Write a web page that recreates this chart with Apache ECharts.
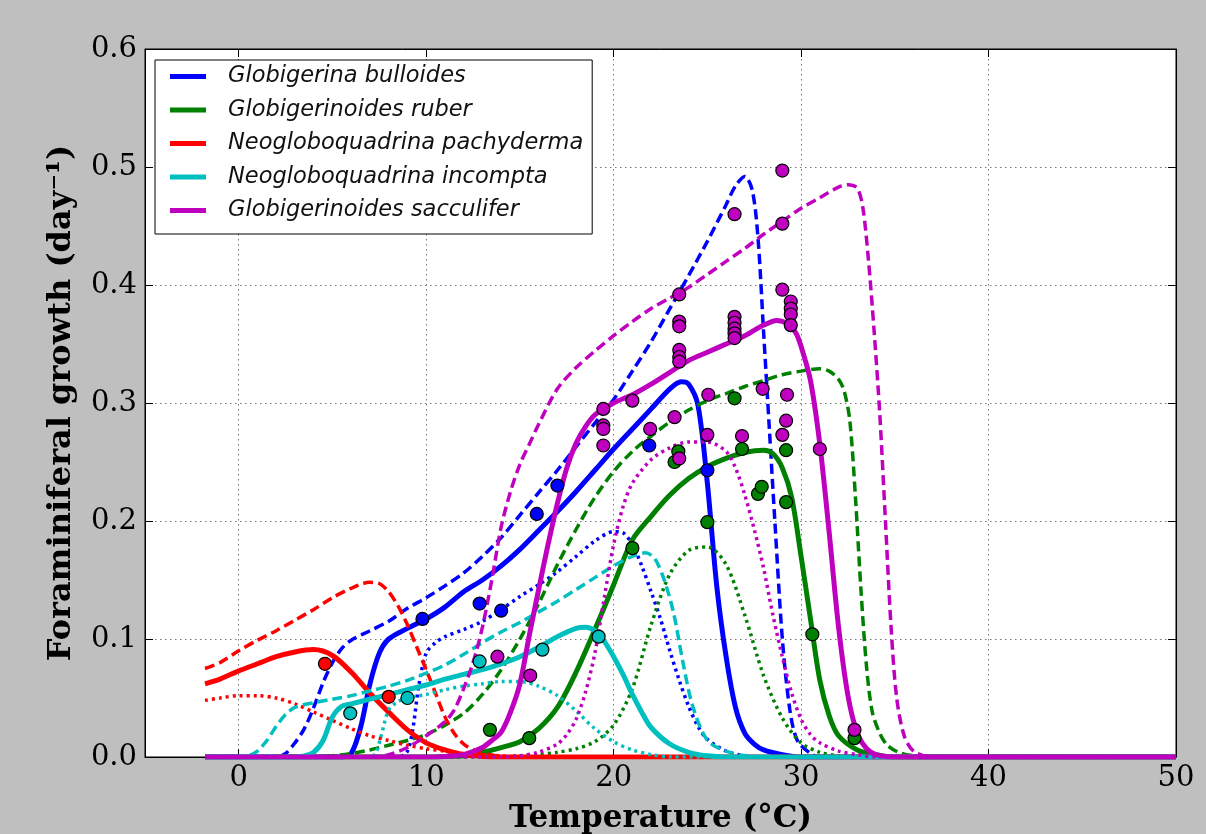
<!DOCTYPE html>
<html>
<head>
<meta charset="utf-8">
<script src="https://cdn.jsdelivr.net/npm/echarts@6/dist/echarts.min.js"></script>
<style>
  html, body { margin: 0; padding: 0; background: #bfbfbf; }
  #growth { width: 1206px; height: 834px; }
</style>
</head>
<body>
<div id="growth"></div>
<script>
// tick labels
var xTicks = [0, 10, 20, 30, 40, 50];
var yTicks = [0, 0.1, 0.2, 0.3, 0.4, 0.5, 0.6];

var speciesNames = ['Globigerina bulloides', 'Globigerinoides ruber', 'Neogloboquadrina pachyderma',
	'Neogloboquadrina incompta', 'Globigerinoides sacculifer'];

// [temperature, growth]
var bullSolid = [[-1.8,0],[5.5,0],[6,0.003],[6.5,0.025],[7,0.062],[7.5,0.088],[8,0.100],[9,0.109],[10,0.117],[11,0.127],[12,0.140],[13,0.150],[14,0.162],[15,0.176],[16,0.192],[17,0.208],[18,0.225],[19,0.243],[20,0.261],[21,0.278],[22,0.295],[23,0.312],[23.6,0.318],[24,0.316],[24.5,0.298],[25,0.232],[25.5,0.145],[26,0.085],[26.5,0.042],[27,0.020],[27.5,0.011],[28,0.006],[29,0.002],[30,0],[50,0]];
var bullDash = [[-1.8,0],[2,0],[2.5,0.003],[3,0.012],[3.5,0.024],[4,0.042],[4.5,0.063],[5,0.080],[5.5,0.092],[6,0.099],[7,0.107],[8,0.115],[9,0.126],[10,0.135],[11,0.145],[12,0.156],[13,0.170],[14,0.186],[15,0.205],[16,0.224],[17,0.243],[18,0.263],[19,0.283],[20,0.303],[21,0.327],[22,0.352],[23,0.380],[24,0.408],[25,0.437],[26,0.468],[26.5,0.484],[27,0.492],[27.4,0.480],[27.7,0.440],[28,0.360],[28.3,0.280],[28.6,0.200],[29,0.100],[29.4,0.040],[29.8,0.014],[30.5,0.003],[31,0],[50,0]];
var bullDot = [[-1.8,0],[8.5,0],[9,0.005],[9.3,0.025],[9.6,0.060],[10,0.088],[10.5,0.097],[11,0.102],[12,0.108],[13,0.115],[14,0.125],[15,0.136],[16,0.146],[17,0.157],[18,0.170],[19,0.183],[20,0.191],[20.5,0.190],[21,0.180],[21.5,0.162],[22,0.140],[22.5,0.117],[23,0.090],[23.5,0.065],[24,0.043],[24.5,0.026],[25,0.015],[26,0.005],[27,0.001],[28,0],[50,0]];

var ruberSolid = [[-1.8,0],[10,0],[11,0.0005],[12,0.001],[13,0.004],[14,0.008],[15,0.013],[16,0.024],[17,0.042],[18,0.072],[19,0.108],[20,0.146],[21,0.184],[22,0.204],[23,0.222],[24,0.236],[25,0.246],[26,0.253],[27,0.258],[28,0.260],[28.5,0.257],[29,0.245],[29.5,0.220],[30,0.170],[30.5,0.117],[31,0.065],[31.5,0.035],[32,0.018],[33,0.006],[34,0.002],[35,0],[50,0]];
var ruberDash = [[-1.8,0],[4,0],[5,0.001],[6,0.003],[7,0.006],[8,0.010],[9,0.014],[10,0.019],[11,0.027],[12,0.037],[13,0.053],[14,0.074],[15,0.100],[16,0.130],[17,0.163],[18,0.193],[19,0.220],[20,0.242],[21,0.259],[22,0.272],[23,0.284],[24,0.294],[25,0.302],[26,0.308],[27,0.314],[28,0.319],[29,0.324],[30,0.327],[31,0.329],[31.5,0.327],[32,0.320],[32.3,0.310],[32.6,0.285],[32.9,0.220],[33.2,0.140],[33.5,0.075],[33.8,0.038],[34.2,0.020],[34.6,0.010],[35.2,0.004],[36,0.001],[37,0],[50,0]];
var ruberDot = [[-1.8,0],[14,0],[15,0.001],[16,0.002],[17,0.004],[18,0.007],[19,0.013],[20,0.027],[21,0.058],[22,0.112],[23,0.155],[24,0.175],[25,0.178],[26,0.163],[27,0.120],[28,0.069],[29,0.033],[30,0.012],[31,0.004],[32,0.001],[33,0],[50,0]];

var pachySolid = [[-1.8,0.062],[-1,0.066],[0,0.073],[1,0.079],[2,0.085],[3,0.089],[4,0.091],[5,0.086],[6,0.072],[7,0.054],[8,0.038],[9,0.023],[10,0.012],[11,0.006],[12,0.002],[13,0.0005],[14,0],[50,0]];
var pachyDash = [[-1.8,0.075],[-1,0.080],[0,0.090],[1,0.099],[2,0.107],[3,0.116],[4,0.125],[5,0.135],[6,0.143],[7,0.148],[7.5,0.147],[8,0.140],[8.5,0.128],[9,0.112],[9.5,0.093],[10,0.074],[10.5,0.054],[11,0.034],[11.5,0.020],[12,0.011],[12.5,0.006],[13,0.003],[14,0.0005],[15,0],[50,0]];
var pachyDot = [[-1.8,0.048],[-1,0.050],[0,0.052],[1,0.052],[2,0.050],[3,0.045],[4,0.038],[5,0.031],[6,0.024],[7,0.018],[8,0.014],[9,0.010],[10,0.007],[11,0.005],[12,0.003],[13,0.002],[14,0.001],[15,0],[50,0]];

var incSolid = [[-1.8,0],[3,0],[3.5,0.001],[4,0.004],[4.5,0.014],[5,0.034],[5.5,0.043],[6,0.045],[7,0.049],[8,0.053],[9,0.057],[10,0.061],[11,0.066],[12,0.070],[13,0.074],[14,0.079],[15,0.085],[16,0.093],[17,0.102],[18,0.109],[18.5,0.110],[19,0.107],[19.5,0.098],[20,0.085],[20.5,0.070],[21,0.053],[21.5,0.038],[22,0.025],[23,0.011],[24,0.004],[25,0.001],[26,0],[50,0]];
var incDash = [[-1.8,0],[0,0],[0.5,0.001],[1,0.005],[1.5,0.014],[2,0.026],[2.5,0.036],[3,0.042],[4,0.046],[5,0.049],[6,0.052],[7,0.056],[8,0.060],[9,0.065],[10,0.071],[11,0.078],[12,0.087],[13,0.097],[14,0.106],[15,0.114],[16,0.123],[17,0.132],[18,0.142],[19,0.152],[20,0.162],[21,0.170],[21.7,0.173],[22.2,0.168],[22.7,0.150],[23.2,0.122],[23.7,0.080],[24.2,0.044],[25,0.014],[26,0.005],[27,0.001],[28,0],[50,0]];
var incDot = [[-1.8,0],[7,0],[7.3,0.003],[7.6,0.018],[8,0.040],[8.5,0.047],[9,0.050],[10,0.053],[11,0.057],[12,0.060],[13,0.062],[14,0.064],[15,0.064],[16,0.060],[17,0.052],[18,0.039],[19,0.024],[20,0.013],[21,0.006],[22,0.002],[23,0],[50,0]];

var saccSolid = [[-1.8,0],[10,0],[11,0.0005],[12,0.002],[13,0.008],[13.5,0.014],[14,0.021],[14.5,0.038],[15,0.062],[15.5,0.103],[16,0.142],[16.5,0.180],[17,0.215],[17.5,0.245],[18,0.266],[18.5,0.280],[19,0.290],[20,0.300],[21,0.307],[22,0.316],[23,0.326],[24,0.336],[25,0.343],[26,0.350],[27,0.357],[28,0.366],[28.7,0.370],[29.3,0.367],[29.7,0.360],[30,0.348],[30.5,0.319],[31,0.265],[31.5,0.190],[32,0.110],[32.5,0.052],[33,0.020],[33.5,0.007],[34,0.002],[35,0],[50,0]];
var saccDash = [[-1.8,0],[7,0],[8,0.002],[9,0.008],[10,0.018],[11,0.030],[11.5,0.040],[12,0.058],[12.5,0.080],[13,0.110],[13.5,0.150],[14,0.195],[14.5,0.225],[15,0.248],[15.5,0.265],[16,0.282],[17,0.312],[18,0.330],[19,0.344],[20,0.357],[21,0.369],[22,0.380],[23,0.389],[24,0.398],[25,0.409],[26,0.420],[27,0.431],[28,0.443],[29,0.454],[30,0.465],[31,0.474],[32,0.483],[32.5,0.485],[33,0.482],[33.3,0.465],[33.6,0.420],[33.9,0.360],[34.2,0.290],[34.5,0.200],[34.8,0.110],[35.1,0.050],[35.5,0.018],[36,0.005],[37,0],[50,0]];
var saccDot = [[-1.8,0],[14,0],[15,0.001],[16,0.004],[17,0.011],[17.5,0.019],[18,0.032],[18.5,0.055],[19,0.088],[19.5,0.135],[20,0.180],[20.5,0.212],[21,0.232],[22,0.252],[23,0.262],[24,0.267],[25,0.267],[26,0.259],[26.5,0.245],[27,0.222],[27.5,0.193],[28,0.160],[28.5,0.120],[29,0.085],[29.5,0.054],[30,0.032],[30.5,0.019],[31,0.012],[32,0.005],[33,0.002],[34,0],[50,0]];

// observations
var bullObs = [[9.8,0.117],[12.85,0.130],[14.0,0.124],[15.9,0.206],[17.0,0.230],[21.9,0.264],[25.0,0.243]];
var ruberObs = [[13.4,0.023],[15.5,0.016],[21.0,0.177],[23.25,0.250],[23.45,0.259],[25.0,0.199],[26.45,0.304],[26.85,0.261],[27.7,0.223],[27.9,0.229],[29.2,0.260],[29.2,0.216],[30.6,0.104],[32.85,0.016]];
var pachyObs = [[4.6,0.079],[8.0,0.051]];
var incObs = [[5.95,0.037],[9.0,0.050],[12.85,0.081],[16.2,0.091],[19.2,0.102]];
var saccObs = [[13.8,0.085],[15.55,0.069],[19.45,0.295],[19.45,0.281],[19.45,0.278],[19.45,0.264],[21.0,0.302],[21.95,0.278],[23.25,0.288],[23.5,0.392],[23.5,0.369],[23.5,0.365],[23.5,0.345],[23.5,0.339],[23.5,0.335],[23.5,0.253],[25.05,0.307],[25.0,0.273],[26.45,0.460],[26.45,0.373],[26.45,0.368],[26.45,0.363],[26.45,0.359],[26.45,0.355],[26.85,0.272],[27.95,0.312],[29.0,0.497],[29.0,0.452],[29.0,0.396],[29.25,0.307],[29.45,0.386],[29.45,0.380],[29.45,0.375],[29.45,0.366],[29.0,0.273],[29.2,0.285],[31.0,0.261],[32.85,0.023]];

var colors = ['#0000ff', '#008000', '#ff0000', '#00bfbf', '#bf00bf'];
var curves = [
	[bullSolid, bullDash, bullDot],
	[ruberSolid, ruberDash, ruberDot],
	[pachySolid, pachyDash, pachyDot],
	[incSolid, incDash, incDot],
	[saccSolid, saccDash, saccDot]
];
var observations = [bullObs, ruberObs, pachyObs, incObs, saccObs];

function lineSeries(name, data, color, style) {
	var width = style === 'solid' ? 5 : 3.5;
	var type = style === 'solid' ? 'solid' : (style === 'dashed' ? [10, 5] : [3, 4]);
	return {
		name: name,
		type: 'line',
		data: data,
		showSymbol: false,
		symbol: 'none',
		smooth: 0.3,
		silent: true,
		color: color,
		lineStyle: { color: color, width: width, type: type, cap: 'butt' }
	};
}

var series = [];
curves.forEach(function (set, i) {
	series.push(lineSeries(speciesNames[i], set[0], colors[i], 'solid'));
	series.push(lineSeries(speciesNames[i] + ' (dashed)', set[1], colors[i], 'dashed'));
	series.push(lineSeries(speciesNames[i] + ' (dotted)', set[2], colors[i], 'dotted'));
});
observations.forEach(function (obs, i) {
	series.push({
		name: speciesNames[i] + ' obs',
		type: 'scatter',
		data: obs,
		symbolSize: 13,
		z: 5,
		itemStyle: { color: colors[i], opacity: 1, borderColor: '#000', borderWidth: 1.2 }
	});
});

var tickStyle = { show: true, inside: true, length: 8, lineStyle: { color: '#000', width: 1 } };
var frameLine = { show: true, onZero: false, lineStyle: { color: '#000', width: 1 } };

var options = {
	backgroundColor: '#bfbfbf',
	animation: false,
	grid: {
		left: 145,
		right: 30,
		top: 49,
		bottom: 77,
		outerBoundsMode: 'none',
		show: true,
		backgroundColor: '#ffffff',
		borderColor: '#000',
		borderWidth: 1
	},
	legend: {
		data: speciesNames,
		orient: 'vertical',
		left: 155,
		top: 60,
		icon: 'rect',
		itemWidth: 36,
		itemHeight: 5,
		itemGap: 10.5,
		padding: [5, 9, 12, 15],
		backgroundColor: '#ffffff',
		borderColor: '#000',
		borderWidth: 1,
		borderRadius: 0,
		selectedMode: false,
		textStyle: {
			fontFamily: 'DejaVu Sans',
			fontStyle: 'italic',
			fontSize: 22.5,
			lineHeight: 22,
			color: '#111',
			padding: [0, 0, 0, 17]
		}
	},
	xAxis: [{
		type: 'value',
		min: -5,
		max: 50,
		name: 'Temperature (°C)',
		nameLocation: 'middle',
		nameGap: 46,
		nameTextStyle: { fontFamily: 'DejaVu Serif', fontWeight: 'bold', fontSize: 31, color: '#000' },
		axisLine: frameLine,
		axisTick: Object.assign({ customValues: xTicks }, tickStyle),
		axisLabel: { customValues: xTicks, fontFamily: 'DejaVu Serif', fontSize: 29, color: '#000', margin: 7 },
		splitLine: { show: true, lineStyle: { color: '#777', width: 1, type: [1.5, 3.5] } }
	}, {
		type: 'value',
		position: 'top',
		min: -5,
		max: 50,
		axisLine: frameLine,
		axisTick: Object.assign({ customValues: xTicks }, tickStyle),
		axisLabel: { show: false },
		splitLine: { show: false }
	}],
	yAxis: [{
		type: 'value',
		min: 0,
		max: 0.6,
		interval: 0.1,
		name: 'Foraminiferal growth (day\u207B\u00B9)',
		nameLocation: 'middle',
		nameGap: 67,
		nameTextStyle: { fontFamily: 'DejaVu Serif', fontWeight: 'bold', fontSize: 32, color: '#000' },
		axisLine: frameLine,
		axisTick: tickStyle,
		axisLabel: {
			fontFamily: 'DejaVu Serif', fontSize: 29, color: '#000', margin: 8,
			formatter: function (v) { return v.toFixed(1); }
		},
		splitLine: { show: true, lineStyle: { color: '#777', width: 1, type: [1.5, 3.5] } }
	}, {
		type: 'value',
		position: 'right',
		min: 0,
		max: 0.6,
		interval: 0.1,
		axisLine: frameLine,
		axisTick: tickStyle,
		axisLabel: { show: false },
		splitLine: { show: false }
	}],
	series: series
};

var chart = echarts.init(document.getElementById('growth'));
chart.setOption(options);
window.addEventListener('resize', function () {
	chart.resize();
});
</script>
</body>
</html>
